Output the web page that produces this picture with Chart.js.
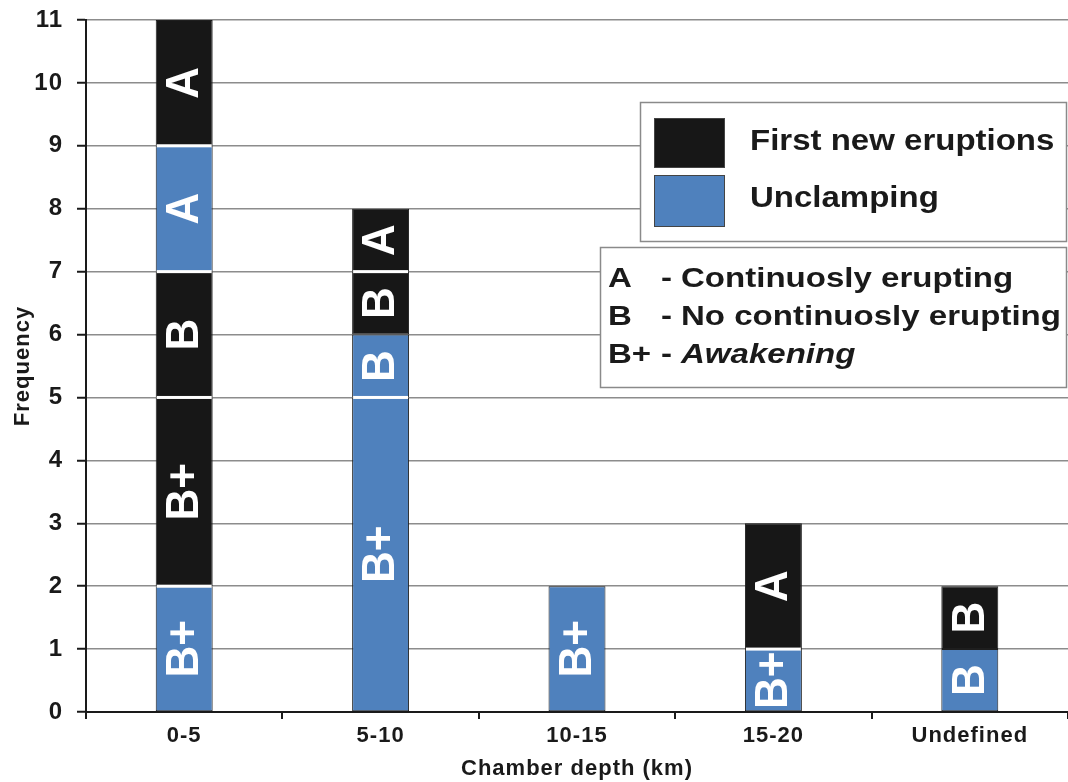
<!DOCTYPE html>
<html>
<head>
<meta charset="utf-8">
<script src="https://cdn.jsdelivr.net/npm/chart.js@4.4.1/dist/chart.umd.min.js"></script>
<style>
  html, body { margin: 0; padding: 0; background: #ffffff; }
  canvas { display: block; }
</style>
</head>
<body>
<canvas id="chart" width="1068" height="782"></canvas>
<script>
// Chamber depth classes on the x axis
const categories = ['0-5', '5-10', '10-15', '15-20', 'Undefined'];

// Stacked segments, listed from the bottom of each bar upwards.
// F = first new eruptions, U = unclamping; null = no segment.
const seg1Values = [2, 5, 2, 1, 1];
const seg1Types  = ['U', 'U', 'U', 'U', 'U'];
const seg1Labels = ['B+', 'B+', 'B+', 'B+', 'B'];

const seg2Values = [3, 1, null, 2, 1];
const seg2Types  = ['F', 'U', null, 'F', 'F'];
const seg2Labels = ['B+', 'B', '', 'A', 'B'];

const seg3Values = [2, 1, null, null, null];
const seg3Types  = ['F', 'F', null, null, null];
const seg3Labels = ['B', 'B', '', '', ''];

const seg4Values = [2, 1, null, null, null];
const seg4Types  = ['U', 'F', null, null, null];
const seg4Labels = ['A', 'A', '', '', ''];

const seg5Values = [2, null, null, null, null];
const seg5Types  = ['F', null, null, null, null];
const seg5Labels = ['A', '', '', '', ''];

// Legend texts
const seriesNames = { F: 'First new eruptions', U: 'Unclamping' };
const keyCodes = ['A', 'B', 'B+'];
const keyTexts = ['Continuosly erupting', 'No continuosly erupting', 'Awakening'];

// Styling
const COLORS = { F: '#171717', U: '#4f81bd' };
const FONT = '"Liberation Sans", Arial, Helvetica, sans-serif';
// white divider drawn under a segment (per segment 2..5)
const dividerBelow = [
  null,
  [true, true, false, true, false],
  [true, false, false, false, false],
  [true, true, false, false, false],
  [true, false, false, false, false]
];

const segments = [
  { values: seg1Values, types: seg1Types, labels: seg1Labels },
  { values: seg2Values, types: seg2Types, labels: seg2Labels },
  { values: seg3Values, types: seg3Types, labels: seg3Labels },
  { values: seg4Values, types: seg4Types, labels: seg4Labels },
  { values: seg5Values, types: seg5Types, labels: seg5Labels }
];

const datasets = segments.map((s, i) => ({
  label: 'segment ' + (i + 1),
  data: s.values,
  backgroundColor: s.types.map(t => t ? COLORS[t] : 'rgba(0,0,0,0)'),
  borderColor: '#1e1e1e',
  borderWidth: 1,
  borderSkipped: false,
  categoryPercentage: 1.0,
  barPercentage: 0.29,
  segLabels: s.labels
}));

// Axis text gets a little extra tracking
const spacingPlugin = {
  id: 'spacing',
  beforeUpdate(chart) { chart.ctx.letterSpacing = '1px'; },
  beforeDraw(chart) { chart.ctx.letterSpacing = '1px'; }
};

// White dividers between stacked segments and rotated code letters
const segmentPlugin = {
  id: 'segments',
  afterDatasetsDraw(chart) {
    const ctx = chart.ctx;
    ctx.save();
    ctx.letterSpacing = '0px';
    chart.data.datasets.forEach((ds, di) => {
      const meta = chart.getDatasetMeta(di);
      meta.data.forEach((el, i) => {
        const v = ds.data[i];
        if (v === null || v === undefined || v <= 0) return;
        const half = el.width / 2;
        if (dividerBelow[di] && dividerBelow[di][i]) {
          ctx.fillStyle = '#ffffff';
          ctx.fillRect(el.x - half + 1, el.base - 1.5, el.width - 2, 3);
        }
        const txt = ds.segLabels[i];
        if (!txt) return;
        ctx.save();
        ctx.translate(el.x + 1, (el.y + el.base) / 2);
        ctx.rotate(-Math.PI / 2);
        ctx.scale(1, 1.06);
        ctx.fillStyle = '#ffffff';
        ctx.font = 'bold 44px ' + FONT;
        ctx.textAlign = 'center';
        ctx.textBaseline = 'middle';
        ctx.fillText(txt, 0, 0);
        ctx.restore();
      });
    });
    ctx.restore();
  }
};

function stretchedText(ctx, text, x, y, sx) {
  ctx.save();
  ctx.translate(x, y);
  ctx.scale(sx, 1);
  ctx.fillText(text, 0, 0);
  ctx.restore();
}

// The two legend boxes on the right
const legendPlugin = {
  id: 'boxLegend',
  afterDraw(chart) {
    const ctx = chart.ctx;
    ctx.save();
    ctx.letterSpacing = '0px';
    ctx.lineWidth = 1.5;
    ctx.strokeStyle = '#8a8a8a';

    // series legend
    ctx.fillStyle = '#ffffff';
    ctx.fillRect(640.5, 102.5, 426, 139);
    ctx.strokeRect(640.5, 102.5, 426, 139);

    ctx.lineWidth = 1;
    ctx.strokeStyle = '#444';
    ctx.fillStyle = COLORS.F;
    ctx.fillRect(654.5, 118.5, 70, 49);
    ctx.strokeRect(654.5, 118.5, 70, 49);
    ctx.fillStyle = COLORS.U;
    ctx.fillRect(654.5, 175.5, 70, 51);
    ctx.strokeRect(654.5, 175.5, 70, 51);

    ctx.fillStyle = '#1a1a1a';
    ctx.font = 'bold 30px ' + FONT;
    ctx.textAlign = 'left';
    ctx.textBaseline = 'alphabetic';
    stretchedText(ctx, seriesNames.F, 750, 150, 1.10);
    stretchedText(ctx, seriesNames.U, 750, 207, 1.10);

    // code key
    ctx.lineWidth = 1.5;
    ctx.strokeStyle = '#8a8a8a';
    ctx.fillStyle = '#ffffff';
    ctx.fillRect(600.5, 247.5, 466, 140);
    ctx.strokeRect(600.5, 247.5, 466, 140);

    ctx.fillStyle = '#1a1a1a';
    const baselines = [287, 325, 363];
    keyCodes.forEach((code, i) => {
      ctx.font = 'bold 28px ' + FONT;
      stretchedText(ctx, code, 608, baselines[i], 1.18);
      stretchedText(ctx, '-', 661, baselines[i], 1.18);
      ctx.font = (i === 2 ? 'italic ' : '') + 'bold 28px ' + FONT;
      stretchedText(ctx, keyTexts[i], 681, baselines[i], 1.18);
    });
    ctx.restore();
  }
};

new Chart(document.getElementById('chart'), {
  type: 'bar',
  data: { labels: categories, datasets },
  options: {
    responsive: false,
    animation: false,
    devicePixelRatio: 1,
    layout: { padding: { top: 20, right: 0, left: 0, bottom: 0 } },
    plugins: {
      legend: { display: false },
      tooltip: { enabled: false }
    },
    scales: {
      x: {
        stacked: true,
        offset: true,
        grid: {
          offset: true,
          drawOnChartArea: false,
          drawTicks: true,
          tickLength: 7,
          color: '#1a1a1a',
          lineWidth: 2
        },
        border: { display: true, color: '#1a1a1a', width: 2 },
        ticks: {
          color: '#1a1a1a',
          padding: 4,
          font: { family: FONT, size: 22, weight: 'bold' }
        },
        title: {
          display: true,
          text: 'Chamber depth (km)',
          color: '#1a1a1a',
          padding: { top: 0, bottom: 0 },
          font: { family: FONT, size: 22, weight: 'bold' }
        },
        afterFit(scale) {
          scale.height = 70;
          scale.paddingLeft = 0;
          scale.paddingRight = 0;
        }
      },
      y: {
        stacked: true,
        min: 0,
        max: 11,
        ticks: {
          stepSize: 1,
          color: '#1a1a1a',
          padding: 14,
          font: { family: FONT, size: 24, weight: 'bold' }
        },
        grid: {
          color: '#8c8c8c',
          lineWidth: 1.5,
          tickLength: 9,
          tickColor: '#1a1a1a',
          tickWidth: 2
        },
        border: { display: true, color: '#1a1a1a', width: 2 },
        title: {
          display: true,
          text: 'Frequency',
          color: '#1a1a1a',
          padding: { top: 10, bottom: 0 },
          font: { family: FONT, size: 22, weight: 'bold' }
        },
        afterFit(scale) {
          scale.width = 86;
          scale.paddingTop = 0;
          scale.paddingBottom = 0;
        }
      }
    }
  },
  plugins: [spacingPlugin, segmentPlugin, legendPlugin]
});
</script>
</body>
</html>
